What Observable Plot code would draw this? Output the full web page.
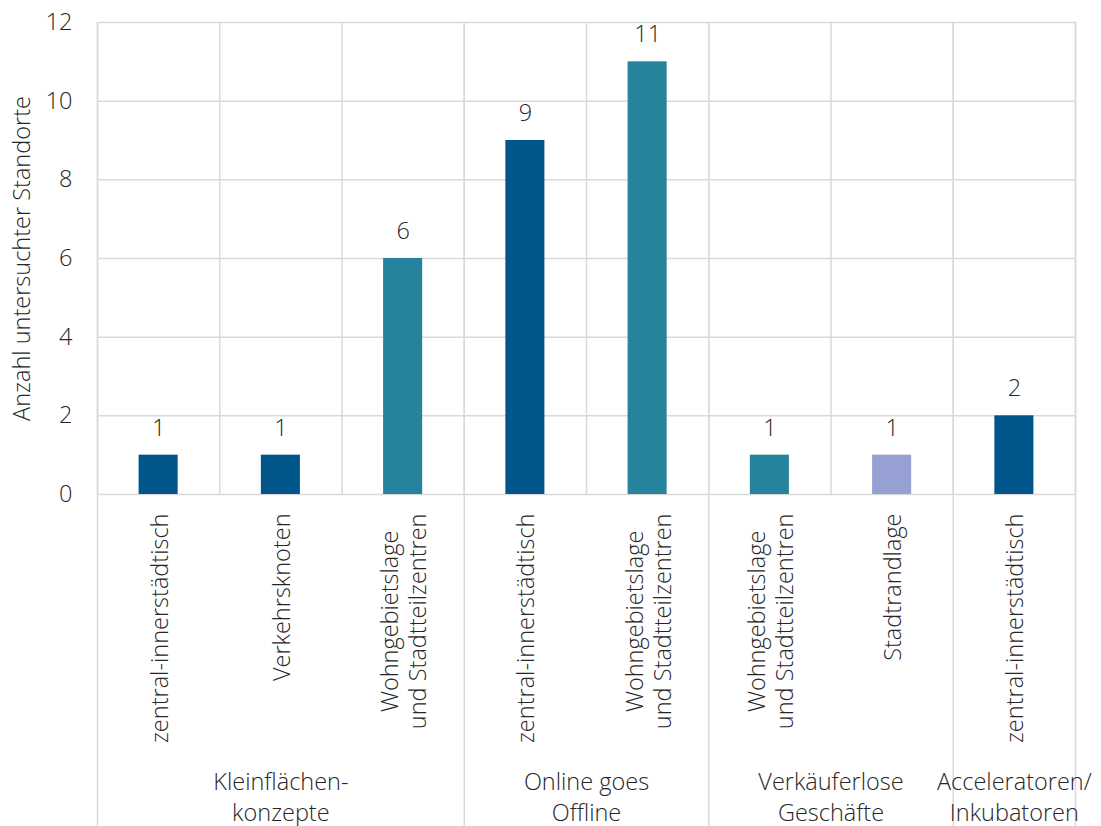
<!DOCTYPE html>
<html>
<head>
<meta charset="utf-8">
<script src="https://cdn.jsdelivr.net/npm/d3@7"></script>
<script src="https://cdn.jsdelivr.net/npm/@observablehq/plot@0.6"></script>
<style>
  html, body { margin: 0; padding: 0; background: #fff; }
  #chart svg { display: block; }
</style>
</head>
<body>
<div id="chart"></div>
<script>
// ---- data ----
const categories = [
  "zentral-innerstädtisch",
  "Verkehrsknoten",
  "Wohngebietslage\nund Stadtteilzentren",
  "zentral-innerstädtisch",
  "Wohngebietslage\nund Stadtteilzentren",
  "Wohngebietslage\nund Stadtteilzentren",
  "Stadtrandlage",
  "zentral-innerstädtisch"
];
const values = [1, 1, 6, 9, 11, 1, 1, 2];
const barColors = ["#00568A", "#00568A", "#25839B", "#00568A", "#25839B", "#25839B", "#96A0D2", "#00568A"];
const groupLabels = ["Kleinflächen-\nkonzepte", "Online goes\nOffline", "Verkäuferlose\nGeschäfte", "Acceleratoren/\nInkubatoren"];
const groupSizes = [3, 2, 2, 1];
const yTicks = [0, 2, 4, 6, 8, 10, 12];
const yTitle = "Anzahl untersuchter Standorte";

// ---- derived tables ----
const bars = categories.map((label, i) => ({i, label, value: values[i], color: barColors[i]}));
let acc = 0;
const groups = groupLabels.map((label, k) => {
  const start = acc; acc += groupSizes[k];
  return {label, start, end: acc};
});
const groupEdges = [0, ...groups.map(g => g.end)];
const catEdges = d3.range(0, categories.length + 1);

const FONT = "'Open Sans', sans-serif";
const TEXT = "#262626";
const GRID = "#d9d9d9";
const FS = 23.5;

const plot = Plot.plot({
  width: 1101,
  height: 826,
  marginLeft: 97,
  marginRight: 26,
  marginTop: 22,
  marginBottom: 332,
  style: {fontFamily: FONT, fontWeight: 300, color: TEXT, background: "#fff"},
  x: {domain: [0, categories.length], axis: null},
  y: {domain: [0, 12], axis: null},
  marks: [
    Plot.ruleY(yTicks, {stroke: GRID, strokeWidth: 1.5}),
    Plot.ruleX(catEdges, {y1: 0, y2: 12, stroke: GRID, strokeWidth: 1.5}),
    Plot.ruleX(groupEdges, {stroke: GRID, strokeWidth: 1.5, insetBottom: -332}),
    Plot.rectY(bars, {x1: "i", x2: d => d.i + 1, y: "value", fill: "color", insetLeft: 41.6, insetRight: 41.6}),
    Plot.axisY(yTicks, {tickSize: 0, tickPadding: 25, fontSize: FS, label: null, fill: TEXT}),
    Plot.text([yTitle], {frameAnchor: "left", textAnchor: "middle", dx: -75, rotate: -90, fontSize: FS, fill: TEXT}),
    Plot.text(bars, {x: d => d.i + 0.5, y: "value", text: d => String(d.value), dy: -27, fontSize: FS, fill: TEXT}),
    Plot.text(bars, {x: d => d.i + 0.5, y: 0, text: "label", rotate: -90, textAnchor: "end", lineAnchor: "middle",
      dy: 19, fontSize: FS, lineHeight: 1.21, fill: TEXT, className: "catlabel"}),
    Plot.text(groups, {x: d => (d.start + d.end) / 2, y: 0, text: "label", lineAnchor: "top",
      dy: 274, fontSize: FS, lineHeight: 1.3, fill: TEXT})
  ]
});

document.getElementById("chart").appendChild(plot);

// center the lines of multi-line category labels within their block (like the original)
plot.querySelectorAll("g.catlabel text").forEach(t => {
  const spans = Array.from(t.querySelectorAll("tspan"));
  if (spans.length < 2) return;
  const lens = spans.map(s => s.getComputedTextLength());
  const max = Math.max(...lens);
  spans.forEach((s, k) => s.setAttribute("dx", -(max - lens[k]) / 2));
});
</script>
</body>
</html>
